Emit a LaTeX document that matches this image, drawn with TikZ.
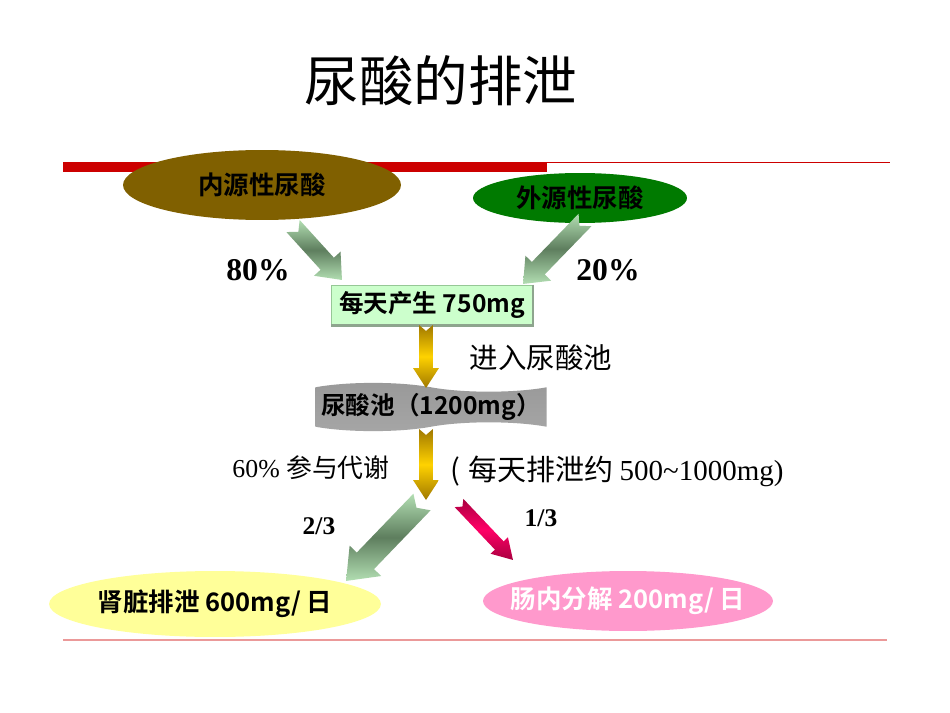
\documentclass[tikz,border=0pt]{standalone}
\usepackage{fontspec}
\setmainfont{Liberation Serif}
\newfontfamily\cjk{Noto Sans CJK SC}[BoldFont={Noto Sans CJK SC Bold}]
\usetikzlibrary{calc,shapes.geometric,shapes.symbols}

\definecolor{barred}{RGB}{204,0,0}
\definecolor{olivebrown}{RGB}{128,96,0}
\definecolor{leafgreen}{RGB}{0,122,0}
\definecolor{mint}{RGB}{204,255,204}
\definecolor{mintedge}{RGB}{150,200,150}
\definecolor{paleyellow}{RGB}{255,255,153}
\definecolor{gutpink}{RGB}{255,153,204}
\definecolor{golddark}{RGB}{160,120,0}
\definecolor{goldlight}{RGB}{255,210,0}
\definecolor{sagelight}{RGB}{178,222,178}
\definecolor{sagedark}{RGB}{94,126,94}
\definecolor{crimson}{RGB}{170,0,64}
\definecolor{hotpink}{RGB}{255,0,102}

\def\pxu{0.5669pt}
% notched block arrow: from, to, shaft, head, head length, notch, style
\newcommand{\blockarrow}[7]{%
  \path let \p1=($(#2)-(#1)$) in \pgfextra{%
    \pgfmathsetmacro\arrang{atan2(\y1,\x1)}\global\let\arrang\arrang
    \pgfmathsetmacro\arrlen{veclen(\x1,\y1)}\global\let\arrlen\arrlen};
  \begin{scope}[shift={(#1)},rotate=\arrang]
    \shade[#7] (0pt,{#3*\pxu}) -- ({\arrlen pt-#5*\pxu},{#3*\pxu})
      -- ({\arrlen pt-#5*\pxu},{#4*\pxu}) -- (\arrlen pt,0pt)
      -- ({\arrlen pt-#5*\pxu},{-#4*\pxu}) -- ({\arrlen pt-#5*\pxu},{-#3*\pxu})
      -- (0pt,{-#3*\pxu}) -- ({#6*\pxu},0pt) -- cycle;
  \end{scope}}

\begin{document}
\begin{tikzpicture}[x=0.02cm, y=-0.02cm,
    source/.style={ellipse, inner sep=0pt, font=\cjk\bfseries\fontsize{14.5}{17}\selectfont},
    label text/.style={font=\cjk\fontsize{14.7}{17}\selectfont},
    ratio/.style={font=\bfseries\fontsize{#1}{#1}\selectfont},
    goldarrow/.style={top color=golddark, bottom color=golddark, middle color=goldlight},
    sagearrow/.style={top color=sagelight, bottom color=sagelight, middle color=sagedark},
    redarrow/.style={top color=crimson, bottom color=crimson, middle color=hotpink}]
    \useasboundingbox[fill=white] (0,0) rectangle (950,713);
    % Rules
    \fill[barred] (63,162) rectangle (547,172);
    \draw[barred, line width=0.6pt] (547,162.5) -- (890,162.5);
    \draw[barred!40, line width=0.6pt] (63,640) -- (887,640);
    % Title
    \node[font=\cjk\fontsize{31}{36}\selectfont] (title) at (441,81) {尿酸的排泄};
    % Nodes
    \node[source, fill=olivebrown, minimum width=5.56cm, minimum height=1.4cm] (inner) at (262,185) {内源性尿酸};
    \node[source, fill=leafgreen, minimum width=4.28cm, minimum height=1.0cm] (outer) at (580,198) {外源性尿酸};
    \node[font=\cjk\bfseries\fontsize{14}{17}\selectfont, fill=mint, draw=mintedge,
      minimum width=4.02cm, minimum height=0.8cm] (daily) at (432,305) {每天产生 750mg};
    \draw[sagedark!70, line width=1.5pt] (daily.north east) -- (daily.south east) -- (daily.south west);
    \node[tape, tape bend top=out and in, tape bend bottom=in and out, tape bend height=5pt,
      font=\cjk\bfseries\fontsize{14}{17}\selectfont, inner ysep=1pt, minimum width=4.46cm, minimum height=0.78cm,
      top color=gray!80, middle color=gray!30, bottom color=gray!70] (pool) at (431,407) {尿酸池（1200mg）};
    \node[source, fill=paleyellow, minimum width=6.6cm, minimum height=1.32cm] (kidney) at (215,604) {肾脏排泄 600mg/ 日};
    \node[source, fill=gutpink, text=white, inner xsep=-25pt, minimum width=5.8cm, minimum height=1.2cm] (gut) at (628,601) {肠内分解 200mg/ 日};
    % Labels
    \node[ratio=18] (p80) at (258,270) {80\%};
    \node[ratio=18] (p20) at (608,270) {20\%};
    \node[font=\cjk\fontsize{16.2}{19}\selectfont] (enter) at (541,358) {进入尿酸池};
    \node[label text] (meta) at (311,468) {\rmfamily 60\% \cjk 参与代谢};
    \node[label text, font=\cjk\fontsize{16.5}{19}\selectfont, anchor=west, inner sep=0pt] (perday) at (450,471) {(\;每天排泄约 \rmfamily 500\textasciitilde1000mg)};
    \node[ratio=14.5] (p23) at (319,526) {2/3};
    \node[ratio=14.5] (p13) at (541,518) {1/3};
    % Arrows
    \coordinate (inner-out) at (293,226);
    \coordinate (outer-out) at (585,220);
    \coordinate (daily-in1) at (342,280);
    \coordinate (daily-in2) at (523,284);
    \coordinate (daily-out) at (426,325);
    \coordinate (pool-in) at (426,388);
    \coordinate (pool-out) at (426,429);
    \coordinate (split) at (426,500);
    \coordinate (kidney-tail) at (422,502);
    \coordinate (kidney-in) at (346,581);
    \coordinate (gut-tail) at (459,503);
    \coordinate (gut-in) at (513,560);
    \blockarrow{inner-out}{daily-in1}{9}{18}{22}{8}{sagearrow}
    \blockarrow{outer-out}{daily-in2}{9}{18}{22}{8}{sagearrow}
    \blockarrow{daily-out}{pool-in}{7}{13}{20}{6}{goldarrow}
    \blockarrow{pool-out}{split}{7}{13}{20}{6}{goldarrow}
    \blockarrow{kidney-tail}{kidney-in}{12}{22}{28}{8}{sagearrow}
    \blockarrow{gut-tail}{gut-in}{6}{12}{20}{5}{redarrow}
\end{tikzpicture}
\end{document}
